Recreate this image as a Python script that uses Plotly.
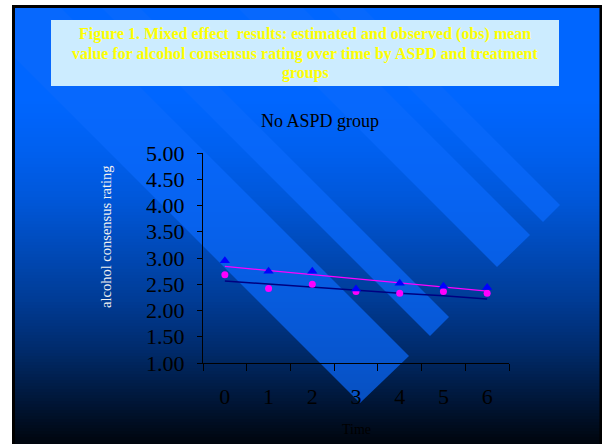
import plotly.graph_objects as go

# ---------------- data ----------------
time_labels = ["0", "1", "2", "3", "4", "5", "6"]
obs_triangle = [2.95, 2.75, 2.75, 2.41, 2.52, 2.46, 2.44]
obs_circle = [2.68, 2.42, 2.50, 2.36, 2.33, 2.36, 2.33]
est_magenta = [2.84, 2.76, 2.68, 2.61, 2.53, 2.45, 2.37]
est_navy = [2.56, 2.50, 2.45, 2.39, 2.33, 2.28, 2.22]
y_ticks = [1.0, 1.5, 2.0, 2.5, 3.0, 3.5, 4.0, 4.5, 5.0]

W, H = 602, 444
PL, PR, PT, PB = 203, 509, 153, 363  # plot area in pixels

def px(x):
    return (x - PL) / (PR - PL)

def py(y):
    return (PB - y) / (PB - PT)

FONT = "Liberation Serif, Times New Roman, serif"

shapes = []

# gradient slide background
stops = [(5, 1.0), (100, 1.0), (150, 0.94), (200, 0.85), (250, 0.72),
         (300, 0.585), (350, 0.42), (400, 0.22), (444, 0.05)]

def factor(y):
    for (y0, f0), (y1, f1) in zip(stops[:-1], stops[1:]):
        if y0 <= y <= y1:
            return f0 + (f1 - f0) * (y - y0) / (y1 - y0)
    return stops[-1][1]

step = 3
y = 5
while y < H:
    f = factor(y + step / 2)
    col = f"rgb(0,{round(102 * f)},{round(255 * f)})"
    shapes.append(dict(type="rect", xref="paper", yref="paper", layer="below",
                       x0=px(12), x1=px(W + 2), y0=py(y), y1=py(min(y + step + 0.6, H + 2)),
                       fillcolor=col, line=dict(width=0)))
    y += step

# decorative diagonal bands (tip, corner of the end edge)
bands = [((360, 403), (409, 356)), ((430, 336), (449, 317)),
         ((497, 267), (530, 235)), ((543, 222), (560, 205))]
K = 700
for (tx, ty), (rx, ry) in bands:
    pts = [(tx, ty), (rx, ry), (rx - K, ry - K), (tx - K, ty - K)]
    path = "M " + " L ".join(f"{px(a):.5f},{py(b):.5f}" for a, b in pts) + " Z"
    shapes.append(dict(type="path", xref="paper", yref="paper", layer="below",
                       path=path, fillcolor="rgba(10,105,252,0.7)", line=dict(width=0)))

# white margins outside the slide
shapes.append(dict(type="rect", xref="paper", yref="paper", layer="below",
                   x0=px(-5), x1=px(12), y0=py(-5), y1=py(H + 5),
                   fillcolor="white", line=dict(width=0)))
shapes.append(dict(type="rect", xref="paper", yref="paper", layer="below",
                   x0=px(-5), x1=px(W + 5), y0=py(-5), y1=py(5),
                   fillcolor="white", line=dict(width=0)))
# slide border
shapes.append(dict(type="rect", xref="paper", yref="paper", layer="below",
                   x0=px(13.5), x1=px(601), y0=py(6.5), y1=py(H + 5),
                   line=dict(color="black", width=3)))
# title box
shapes.append(dict(type="rect", xref="paper", yref="paper", layer="below",
                   x0=px(51), x1=px(559), y0=py(20), y1=py(86),
                   fillcolor="#CCECFF", line=dict(width=0)))

fig = go.Figure()
fig.add_trace(go.Scatter(x=time_labels, y=est_magenta, mode="lines",
                         line=dict(color="#FF00FF", width=1.2), name="estimated (treatment)"))
fig.add_trace(go.Scatter(x=time_labels, y=est_navy, mode="lines",
                         line=dict(color="#000080", width=1.5), name="estimated (no treatment)"))
fig.add_trace(go.Scatter(x=time_labels, y=obs_circle, mode="markers",
                         marker=dict(symbol="circle", color="#FF00FF", size=7),
                         name="obs (no treatment)"))
fig.add_trace(go.Scatter(x=time_labels, y=obs_triangle, mode="markers",
                         marker=dict(symbol="triangle-up", color="#0000FF", size=9),
                         name="obs (treatment)"))

title_lines = ["Figure 1. Mixed effect\u00a0 results: estimated and observed (obs) mean",
               "value for alcohol consensus rating over time by ASPD and treatment",
               "groups"]
title_y = [34, 54, 73]
annotations = []
for t, yy in zip(title_lines, title_y):
    annotations.append(dict(text=f"<b>{t}</b>", xref="paper", yref="paper",
                            x=px(305), y=py(yy), showarrow=False,
                            font=dict(family=FONT, size=16, color="#FFFF00"),
                            xanchor="center", yanchor="middle"))
annotations.append(dict(text="No ASPD group", xref="paper", yref="paper",
                        x=px(320), y=py(121), showarrow=False,
                        font=dict(family=FONT, size=18, color="black"),
                        xanchor="center", yanchor="middle"))
annotations.append(dict(text="alcohol consensus rating", xref="paper", yref="paper",
                        x=px(106), y=py(237), showarrow=False, textangle=-90,
                        font=dict(family=FONT, size=14.5, color="#F0F0F0"),
                        xanchor="center", yanchor="middle"))
annotations.append(dict(text="Time", xref="paper", yref="paper",
                        x=px(356), y=py(429), showarrow=False,
                        font=dict(family=FONT, size=14, color="black"),
                        xanchor="center", yanchor="middle"))

fig.update_layout(
    width=W, height=H,
    margin=dict(l=PL, r=W - PR, t=PT, b=H - PB, pad=0),
    paper_bgcolor="white", plot_bgcolor="rgba(0,0,0,0)",
    showlegend=False, shapes=shapes, annotations=annotations,
    font=dict(family=FONT, color="black"),
    xaxis=dict(type="category", tickson="boundaries", showgrid=False, zeroline=False,
               showline=True, linecolor="black", linewidth=1.2,
               ticks="outside", ticklen=7, tickcolor="black", tickwidth=1.2,
               tickfont=dict(family=FONT, size=22, color="black"),
               ticklabelstandoff=13, range=[-0.5, 6.5]),
    yaxis=dict(range=[1, 5], tickvals=y_ticks, ticktext=[f"{v:.2f}" for v in y_ticks],
               showgrid=False, zeroline=False, showline=True, linecolor="black", linewidth=1.2,
               ticks="outside", ticklen=5, tickcolor="black", tickwidth=1.2,
               tickfont=dict(family=FONT, size=22, color="black"),
               ticklabelstandoff=8),
)

fig.write_html("out.html", config={"displayModeBar": False},
               post_script="document.body.style.margin='0';document.body.style.overflow='hidden';")
